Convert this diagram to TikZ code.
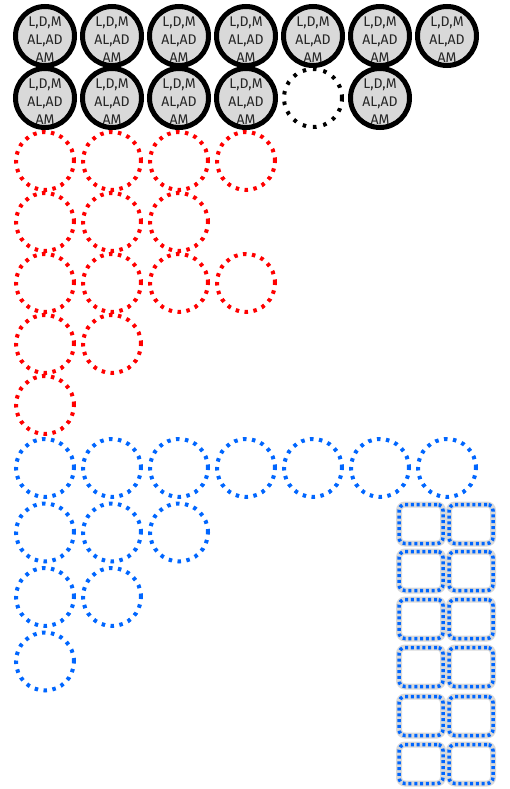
\documentclass[tikz,border=0pt]{standalone}
\usepackage{fontspec}
\setmainfont{Fira Sans}
\usetikzlibrary{positioning}
\definecolor{dotred}{RGB}{255,0,0}
\definecolor{dotblue}{RGB}{0,102,255}
\definecolor{cellgray}{RGB}{217,217,217}

\begin{document}
\begin{tikzpicture}[x=1pt,y=-1pt,
  full/.style={circle,minimum size=59pt,inner sep=0pt,fill=cellgray},
  celltxt/.style={align=center,inner sep=0pt,font=\fontsize{14}{18}\selectfont,text=black!85},
  ring/.style={line width=5pt},
  dotcirc/.style={circle,minimum size=58pt,inner sep=0pt,line width=4pt,dash pattern=on 3.5pt off 5.5pt},
  dotsq/.style={rectangle,rounded corners=6pt,minimum width=44pt,minimum height=39pt,inner sep=0pt,
    draw=dotblue,line width=3.5pt,dash pattern=on 3pt off 2.8pt,
    preaction={draw=black!15,line width=6pt,solid}}]
\useasboundingbox (0,0) rectangle (509,789);
% black cells, two rows (slot 5 of row 2 is empty)
\foreach \c/\r in {1/1,2/1,3/1,4/1,5/1,6/1,7/1,1/2,2/2,3/2,4/2,6/2} {
  \node[full] (b-\r-\c) at ({45+67*(\c-1)},{36+62*(\r-1)}) {};
  \node[celltxt] (t-\r-\c) at ([yshift=-4pt]b-\r-\c.center) {L,D,M\\AL,AD\\AM};
  \draw[ring] (b-\r-\c.center) circle[radius=29.5];
}
\node[dotcirc,draw=black,dash pattern=on 3.5pt off 7pt] (e-2-5) at (313,98) {};
% red group
\foreach \r/\n in {1/4,2/3,3/4,4/2,5/1}
  \foreach \c in {1,...,\n}
    \node[dotcirc,draw=dotred] (r-\r-\c) at ({45+67*(\c-1)},{161+61*(\r-1)}) {};
% blue group
\foreach \r/\n in {1/7,2/3,3/2,4/1}
  \foreach \c in {1,...,\n}
    \node[dotcirc,draw=dotblue] (u-\r-\c) at ({45+67*(\c-1)},{468+64.5*(\r-1)}) {};
% blue boxes
\foreach \r/\y in {1/524,2/571,3/619,4/667,5/716,6/764}
  \foreach \c/\x in {1/421,2/471}
    \node[dotsq] (s-\r-\c) at (\x,\y) {};
\end{tikzpicture}
\end{document}
